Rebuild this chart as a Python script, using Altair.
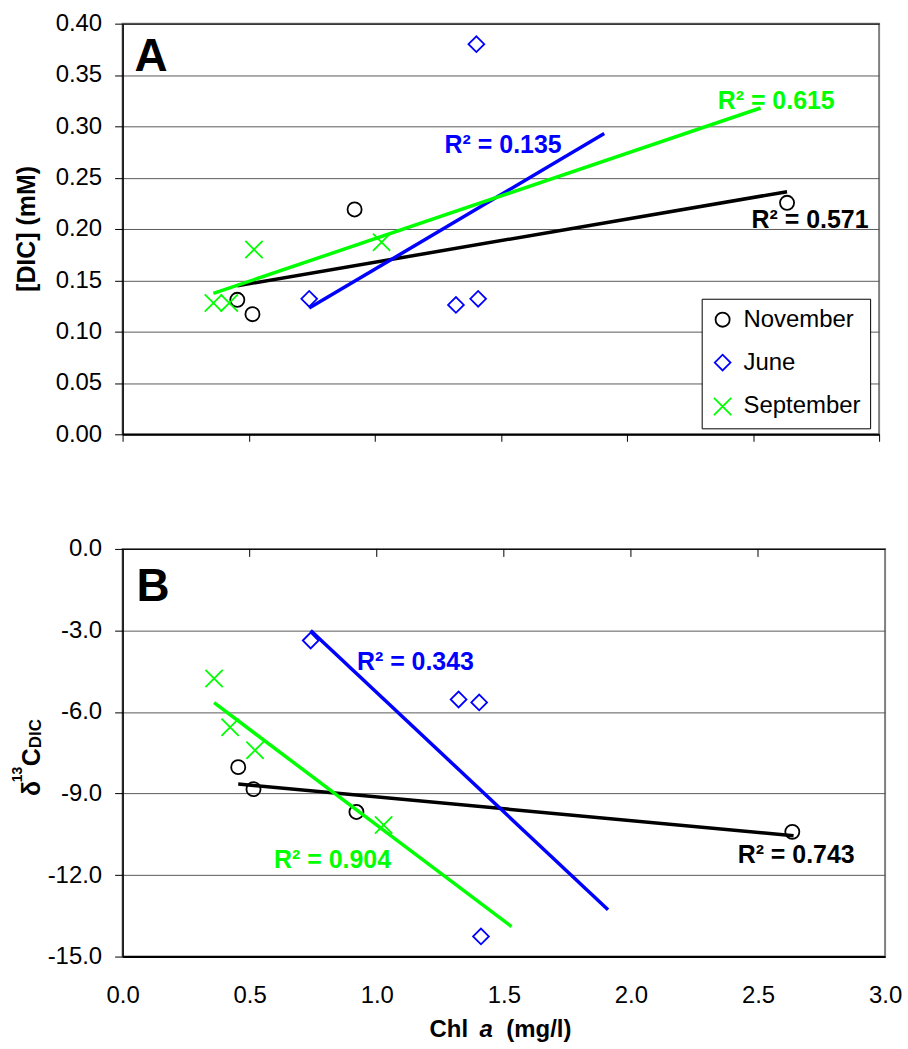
import altair as alt
import pandas as pd

FONT = "Liberation Sans"

# ---------------- data ----------------
series = ["November", "June", "September"]
colors = ["#000000", "#0000FF", "#00FF00"]
shapes = ["circle", "diamond", "M-1,-1L1,1M-1,1L1,-1"]

chl_nov = [0.455, 0.515, 0.92, 2.635]
dic_nov = [0.131, 0.117, 0.219, 0.2255]
d13c_nov = [-8.03, -8.84, -9.68, -10.41]

chl_jun = [0.74, 1.322, 1.403, 1.41]
dic_jun = [0.132, 0.126, 0.38, 0.132]
d13c_jun = [-3.37, -5.54, -5.65, -14.26]

chl_sep = [0.36, 0.423, 0.521, 1.027]
dic_sep = [0.128, 0.128, 0.18, 0.187]
d13c_sep = [-4.77, -6.56, -7.41, -10.16]

# x-extent of each linear trendline (as drawn in the figure)
trend_ext_a = [[0.455, 2.635], [0.74, 1.91], [0.36, 2.53]]
trend_ext_b = [[0.455, 2.64], [0.74, 1.91], [0.36, 1.53]]

# R^2 annotations (text and anchor in data units)
r2_text_a = ["R² = 0.571", "R² = 0.135", "R² = 0.615"]
r2_x_a = [2.494, 1.277, 2.36]
r2_y_a = [0.201, 0.2738, 0.3165]

r2_text_b = ["R² = 0.743", "R² = 0.343", "R² = 0.904"]
r2_x_b = [2.42, 0.922, 0.596]
r2_y_b = [-11.55, -4.47, -11.73]

x_ticks = [0.0, 0.5, 1.0, 1.5, 2.0, 2.5, 3.0]
x_inner_ticks = [0.5, 1.0, 1.5, 2.0, 2.5]
dic_ticks = [0.0, 0.05, 0.10, 0.15, 0.20, 0.25, 0.30, 0.35, 0.40]
d13c_ticks = [0.0, -3.0, -6.0, -9.0, -12.0, -15.0]

df = pd.DataFrame({
    "series": ["November"] * 4 + ["June"] * 4 + ["September"] * 4,
    "chl": chl_nov + chl_jun + chl_sep,
    "dic": dic_nov + dic_jun + dic_sep,
    "d13c": d13c_nov + d13c_jun + d13c_sep,
})

# ---------------- layout ----------------
W_A, H_A = 759, 412
W_B, H_B = 765, 409

xscale = alt.Scale(domain=[0, 3], nice=False, zero=False)
ya_scale = alt.Scale(domain=[0, 0.4], nice=False)
yb_scale = alt.Scale(domain=[-15, 0], nice=False)
color_scale = alt.Scale(domain=series, range=colors)
shape_scale = alt.Scale(domain=series, range=shapes)
size_scale = alt.Scale(domain=series, range=[200, 300, 320])

legend_a = alt.Legend(
    title=None, orient="none", legendX=581, legendY=276,
    strokeColor="#000000", fillColor="white", padding=9, rowPadding=19,
    labelFontSize=24, labelFont=FONT, labelColor="black", labelOffset=9,
    symbolSize=225, symbolStrokeWidth=1.8,
)


def points(yfield, yscale, xaxis, yaxis, legend):
    return alt.Chart(df).mark_point(filled=False, strokeWidth=1.8, opacity=1).encode(
        x=alt.X("chl:Q", scale=xscale, axis=xaxis),
        y=alt.Y(f"{yfield}:Q", scale=yscale, axis=yaxis),
        color=alt.Color("series:N", scale=color_scale, legend=legend),
        shape=alt.Shape("series:N", scale=shape_scale, legend=legend),
        size=alt.Size("series:N", scale=size_scale, legend=None),
    )


def trends(yfield, yscale, extents, xaxis, yaxis):
    out = []
    for name, col, ext in zip(series, colors, extents):
        out.append(
            alt.Chart(df)
            .transform_filter(alt.datum.series == name)
            .transform_regression("chl", yfield, extent=ext)
            .mark_line(color=col, strokeWidth=3.5)
            .encode(
                x=alt.X("chl:Q", scale=xscale, axis=xaxis),
                y=alt.Y(f"{yfield}:Q", scale=yscale, axis=yaxis),
            )
        )
    return out


def r2_labels(xs, ys, texts, yscale, xaxis, yaxis):
    out = []
    for col, x, y, t in zip(colors, xs, ys, texts):
        d = pd.DataFrame({"x": [x], "y": [y], "t": [t]})
        out.append(
            alt.Chart(d)
            .mark_text(align="left", baseline="alphabetic", fontSize=25,
                       fontWeight="bold", font=FONT, color=col)
            .encode(
                x=alt.X("x:Q", scale=xscale, axis=xaxis),
                y=alt.Y("y:Q", scale=yscale, axis=yaxis),
                text="t:N",
            )
        )
    return out


def label(text, x, y, size, angle=0, align="left", italic=False):
    kw = dict(align=align, baseline="alphabetic", fontSize=size,
              fontWeight="bold", font=FONT, color="black")
    if angle:
        kw["angle"] = angle
    if italic:
        kw["fontStyle"] = "italic"
    return alt.Chart(alt.Data(values=[{}])).mark_text(**kw).encode(
        x=alt.value(x), y=alt.value(y), text=alt.value(text)
    )


# ---------------- panel A ----------------
xaxis_a = alt.Axis(values=x_ticks, labels=False, ticks=True, tickSize=7,
                   tickColor="black", domainColor="black", domainWidth=2,
                   grid=False, title=None)
yaxis_a = alt.Axis(values=dic_ticks, format=".2f", labelFontSize=24, labelFont=FONT,
                   labelColor="black", tickSize=8, tickColor="black", labelPadding=13,
                   domainColor="black", domainWidth=1.5, grid=True,
                   gridColor={"condition": {"test": "datum.value >= 0.399", "value": "#000000"},
                              "value": "#5a5a5a"},
                   gridWidth=1, title=None)

panel_a = alt.layer(
    points("dic", ya_scale, xaxis_a, yaxis_a, legend_a),
    *trends("dic", ya_scale, trend_ext_a, xaxis_a, yaxis_a),
    *r2_labels(r2_x_a, r2_y_a, r2_text_a, ya_scale, xaxis_a, yaxis_a),
    label("A", 12, 48, 46),
    label("[DIC] (mM)", -88, H_A / 2, 25, angle=270, align="center"),
).properties(width=W_A, height=H_A)

# ---------------- panel B ----------------
xaxis_b = alt.Axis(values=x_ticks, format=".1f", labelFontSize=24, labelFont=FONT,
                   labelColor="black", ticks=False, labelPadding=27, labelFlush=False,
                   domainColor="black", domainWidth=2, grid=False, title=None)
yaxis_b = alt.Axis(values=d13c_ticks,
                   labelExpr="datum.value < 0 ? '-' + format(-datum.value, '.1f') : format(datum.value, '.1f')",
                   labelFontSize=24, labelFont=FONT, labelColor="black", tickSize=8,
                   tickColor="black", labelPadding=13, domainColor="black", domainWidth=1.5,
                   grid=True,
                   gridColor={"condition": {"test": "datum.value >= -0.001", "value": "#000000"},
                              "value": "#5a5a5a"},
                   gridWidth=1, title=None)

inner_ticks = alt.Chart(pd.DataFrame({"chl": x_inner_ticks})).mark_rule(
    color="black", strokeWidth=1
).encode(x=alt.X("chl:Q", scale=xscale, axis=xaxis_b), y=alt.value(0), y2=alt.value(8))

panel_b = alt.layer(
    points("d13c", yb_scale, xaxis_b, yaxis_b, None),
    inner_ticks,
    *trends("d13c", yb_scale, trend_ext_b, xaxis_b, yaxis_b),
    *r2_labels(r2_x_b, r2_y_b, r2_text_b, yb_scale, xaxis_b, yaxis_b),
    label("B", 14, 52, 46),
    label("δ", -83, 248, 25, angle=270),
    label("13", -101, 234, 14, angle=270),
    label("C", -83, 218, 25, angle=270),
    label("DIC", -82, 200, 17, angle=270),
    label("Chl", 308, 490, 24),
    label("a", 358, 490, 24, italic=True),
    label("(mg/l)", 385, 490, 24),
).properties(width=W_B, height=H_B)

chart = (
    alt.vconcat(panel_a, panel_b, spacing=115, bounds="flush")
    .resolve_scale(color="independent", shape="independent", size="independent")
    .properties(padding={"left": 10, "top": 9, "right": 5, "bottom": 5}, background="white")
    .configure(font=FONT)
    .configure_view(stroke="#808080", strokeWidth=2)
)

chart.save("out.html", embed_options={"renderer": "svg", "actions": False})
